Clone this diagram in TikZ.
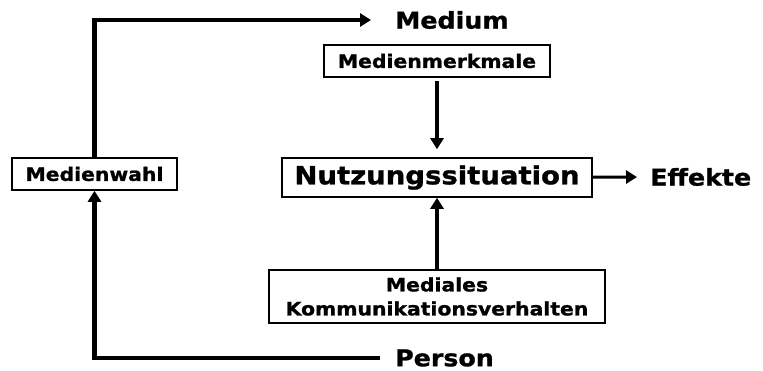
\documentclass[tikz,border=0pt]{standalone}
\usepackage{fontspec}
\newfontfamily\diafont[FakeStretch=1.1,FakeBold=1.2]{DejaVu Sans}
\usetikzlibrary{arrows.meta,positioning}

\begin{document}
\begin{tikzpicture}[x=1pt, y=-1pt,
  box/.style={rectangle, draw, line width=1.6pt, inner sep=0pt, align=center,
              font=\diafont\bfseries\fontsize{18.5}{24}\selectfont},
  term/.style={inner sep=0pt, anchor=west,
               font=\diafont\bfseries\fontsize{23}{27}\selectfont},
  flow/.style={draw, line width=4.8pt, -{Triangle[length=11pt,width=13pt]}},
]
  \useasboundingbox (0,0) rectangle (763,371);

  % Outcome labels
  \node[term] (medium) at (395,20) {Medium};
  \node[term] (person) at (395,358) {Person};
  \node[term] (effekte) at (650,177) {Effekte};

  % Boxes
  \node[box, minimum width=165pt, minimum height=32pt] (wahl) at (94.5,174) {Medienwahl};
  \node[box, minimum width=226pt, minimum height=32pt] (merkmale) at (437,61) {Medienmerkmale};
  \node[box, minimum width=310pt, minimum height=39pt,
        font=\diafont\bfseries\fontsize{25}{28}\selectfont] (situation) at (437,177.5)
        {Nutzungssituation};
  \node[box, minimum width=336pt, minimum height=53pt] (verhalten) at (437,296.5)
        {Mediales\\Kommunikationsverhalten};

  % Left loop: person -> choice -> medium
  \draw[flow, shorten <=15pt] (person.west) -| (wahl.south);
  \draw[flow, shorten >=24pt] (wahl.north) |- (medium.west);

  % Into and out of the usage situation
  \draw[flow, line width=4pt, shorten <=3pt, shorten >=8pt] (merkmale) -- (situation);
  \draw[flow, line width=4pt] (verhalten) -- (situation);
  \draw[flow, line width=3pt, shorten >=13pt] (situation) -- (effekte.west);

\end{tikzpicture}
\end{document}
